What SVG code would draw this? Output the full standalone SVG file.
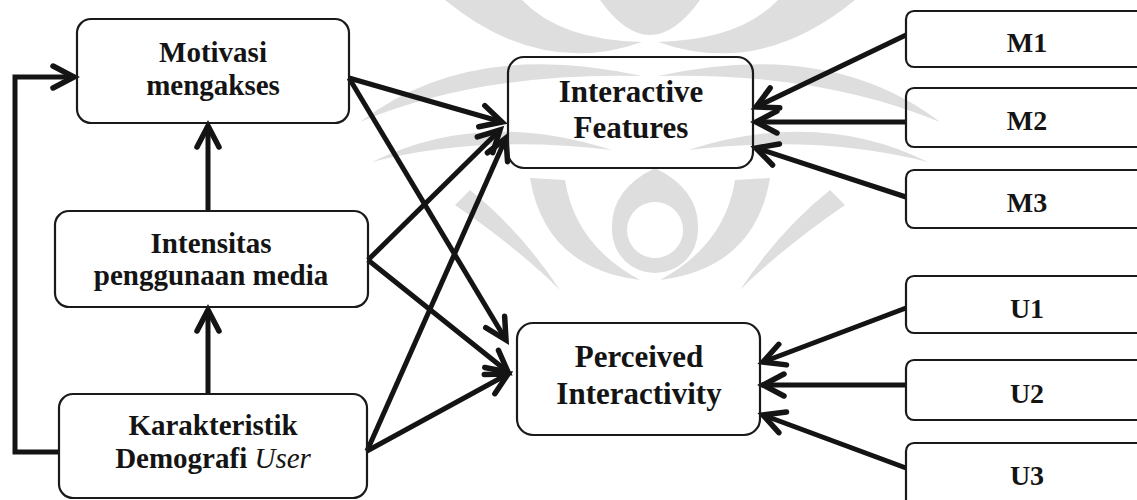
<svg xmlns="http://www.w3.org/2000/svg" width="1137" height="500" viewBox="0 0 1137 500">
  <style>
    .box{fill:none;stroke:#1a1a1a;stroke-width:2.2}
    .lbl{font-family:"Liberation Serif","Times New Roman",serif;font-weight:bold;fill:#141414;text-anchor:middle}
    .l{font-size:29px}
    .c{font-size:31px}
    .r{font-size:28px}
    .wm{fill:#dedede;stroke:none}
    .edge{fill:none;stroke:#141414;stroke-width:5;marker-end:url(#arr)}
  </style>
  <defs>
    <marker id="arr" markerUnits="userSpaceOnUse" markerWidth="40" markerHeight="40" viewBox="-30 -20 40 40" refX="0" refY="0" orient="auto" overflow="visible">
      <path d="M-21,-11 L0,0 L-21,11" fill="none" stroke="#141414" stroke-width="5.5" stroke-linecap="round"/>
    </marker>
  </defs>
  <rect width="1137" height="500" fill="#ffffff"/>

  <g id="watermark">
    <path class="wm" d="M360 122 Q470 38 642 76 Q480 72 360 122 Z"/>
    <path class="wm" d="M940 122 Q830 38 658 76 Q820 72 940 122 Z"/>
    <path class="wm" d="M372 162 Q480 108 612 150 Q480 134 372 162 Z"/>
    <path class="wm" d="M928 162 Q820 108 688 150 Q820 134 928 162 Z"/>
    <path class="wm" d="M445 0 Q540 78 642 42 Q560 40 522 0 Z"/>
    <path class="wm" d="M855 0 Q760 78 658 42 Q740 40 778 0 Z"/>
    <path class="wm" d="M600 0 Q650 70 700 0 Z"/>
    <path class="wm" d="M655 168 Q700 190 698 230 A43 43 0 1 1 612 230 Q610 190 655 168 Z M655 202 A28 28 0 1 0 655.1 202 Z" fill-rule="evenodd"/>
    <path class="wm" d="M530 178 Q545 268 640 280 Q575 245 565 180 Z"/>
    <path class="wm" d="M770 178 Q755 268 660 280 Q725 245 735 180 Z"/>
    <path class="wm" d="M470 190 Q520 230 560 290 Q520 250 455 205 Z"/>
    <path class="wm" d="M830 190 Q780 230 740 290 Q780 250 845 205 Z"/>
  </g>

  <g id="connectors">
    <polyline class="edge" points="59,452 15,452 15,77 74,77"/>
    <line class="edge" x1="208" y1="211" x2="208" y2="126"/>
    <line class="edge" x1="208" y1="394" x2="208" y2="310"/>
    <line class="edge" x1="349" y1="78" x2="502" y2="122"/>
    <line class="edge" x1="349" y1="78" x2="506" y2="340"/>
    <line class="edge" x1="368" y1="260" x2="500" y2="130"/>
    <line class="edge" x1="368" y1="260" x2="508" y2="372"/>
    <line class="edge" x1="367" y1="451" x2="506" y2="138"/>
    <line class="edge" x1="367" y1="451" x2="508" y2="374"/>
    <line class="edge" x1="906" y1="35" x2="756" y2="107"/>
    <line class="edge" x1="906" y1="122" x2="756" y2="122"/>
    <line class="edge" x1="906" y1="197" x2="756" y2="148"/>
    <line class="edge" x1="906" y1="308" x2="763" y2="362"/>
    <line class="edge" x1="906" y1="385" x2="763" y2="385"/>
    <line class="edge" x1="906" y1="468" x2="763" y2="415"/>
  </g>

  <g id="motivasi">
    <rect class="box" x="77" y="19" width="272" height="104" rx="14"/>
    <text class="lbl l" x="213" y="62">Motivasi</text>
    <text class="lbl l" x="213" y="95">mengakses</text>
  </g>
  <g id="intensitas">
    <rect class="box" x="55" y="211" width="313" height="96" rx="14"/>
    <text class="lbl l" x="211" y="253">Intensitas</text>
    <text class="lbl l" x="211" y="285">penggunaan media</text>
  </g>
  <g id="karakteristik">
    <rect class="box" x="59" y="394" width="308" height="104" rx="14"/>
    <text class="lbl l" x="213" y="435">Karakteristik</text>
    <text class="lbl l" x="213" y="468">Demografi <tspan font-style="italic" font-weight="normal">User</tspan></text>
  </g>
  <g id="interactive-features">
    <rect class="box" x="508" y="57" width="245" height="111" rx="16"/>
    <text class="lbl c" x="631" y="102">Interactive</text>
    <text class="lbl c" x="631" y="138">Features</text>
  </g>
  <g id="perceived-interactivity">
    <rect class="box" x="517" y="323" width="243" height="112" rx="16"/>
    <text class="lbl c" x="639" y="367">Perceived</text>
    <text class="lbl c" x="639" y="404">Interactivity</text>
  </g>
  <g id="m1">
    <rect class="box" x="906" y="11" width="260" height="56" rx="8"/>
    <text class="lbl r" x="1027" y="52">M1</text>
  </g>
  <g id="m2">
    <rect class="box" x="906" y="88" width="260" height="59" rx="8"/>
    <text class="lbl r" x="1027" y="130">M2</text>
  </g>
  <g id="m3">
    <rect class="box" x="906" y="170" width="260" height="58" rx="8"/>
    <text class="lbl r" x="1027" y="212">M3</text>
  </g>
  <g id="u1">
    <rect class="box" x="906" y="276" width="260" height="57" rx="8"/>
    <text class="lbl r" x="1027" y="318">U1</text>
  </g>
  <g id="u2">
    <rect class="box" x="906" y="360" width="260" height="60" rx="8"/>
    <text class="lbl r" x="1027" y="403">U2</text>
  </g>
  <g id="u3">
    <rect class="box" x="906" y="443" width="260" height="70" rx="8"/>
    <text class="lbl r" x="1027" y="485">U3</text>
  </g>
</svg>
